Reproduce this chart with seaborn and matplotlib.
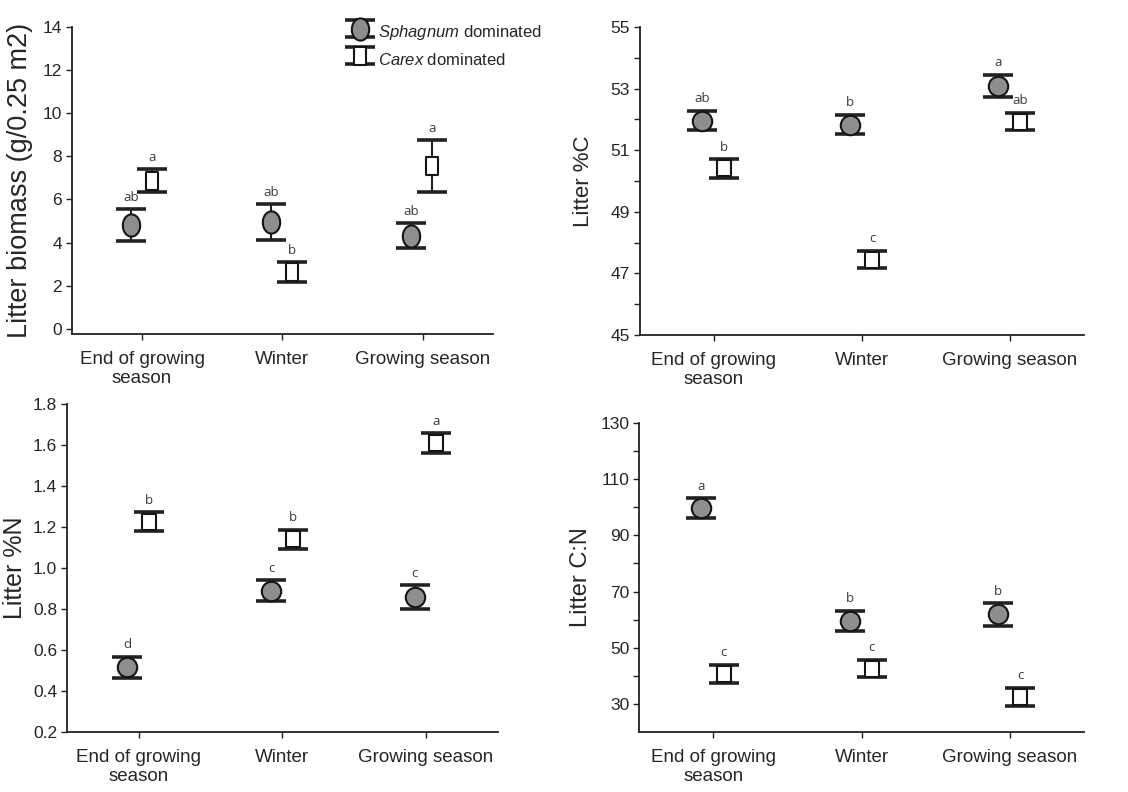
import numpy as np
import pandas as pd
import matplotlib
matplotlib.use("Agg")
import matplotlib.pyplot as plt
from matplotlib.path import Path
from matplotlib.legend_handler import HandlerTuple
import seaborn as sns

# seasons on the x axis
seasons = ["End of growing\nseason", "Winter", "Growing season"]

# Sphagnum dominated (mean, error) per panel
sph_biomass = [4.80, 4.95, 4.32]
sph_biomass_err = [0.75, 0.82, 0.58]
sph_c = [51.96, 51.83, 53.09]
sph_c_err = [0.32, 0.32, 0.35]
sph_n = [0.515, 0.89, 0.857]
sph_n_err = [0.052, 0.051, 0.058]
sph_cn = [99.8, 59.6, 61.85]
sph_cn_err = [3.5, 3.5, 3.95]

# Carex dominated
car_biomass = [6.87, 2.63, 7.55]
car_biomass_err = [0.53, 0.46, 1.2]
car_c = [50.41, 47.45, 51.93]
car_c_err = [0.30, 0.29, 0.29]
car_n = [1.226, 1.14, 1.609]
car_n_err = [0.047, 0.047, 0.048]
car_cn = [40.65, 42.55, 32.45]
car_cn_err = [3.25, 3.15, 3.25]

# significance letters
sph_letters = [["ab", "ab", "ab"], ["ab", "b", "a"], ["d", "c", "c"], ["a", "b", "b"]]
car_letters = [["a", "b", "a"], ["b", "c", "ab"], ["b", "b", "a"], ["c", "c", "c"]]

ylabels = ["Litter biomass (g/0.25 m2)", "Litter %C", "Litter %N", "Litter C:N"]

sns.set_style("ticks")
plt.rcParams["font.family"] = ["Liberation Sans", "DejaVu Sans"]
plt.rcParams["mathtext.fontset"] = "custom"
plt.rcParams["mathtext.rm"] = "Liberation Sans"
plt.rcParams["mathtext.it"] = "Liberation Sans:italic"


def box_marker(w, h):
    return Path([(-w, -h), (w, -h), (w, h), (-w, h), (-w, -h)],
                [Path.MOVETO, Path.LINETO, Path.LINETO, Path.LINETO, Path.CLOSEPOLY])


def oval_marker(w, h):
    t = np.linspace(0, 2 * np.pi, 60)
    return Path(np.column_stack([w * np.cos(t), h * np.sin(t)]), closed=True)


fig = plt.figure(figsize=(11.28, 7.92), dpi=100)
rects = [
    [0.0638, 0.578, 0.373, 0.388],
    [0.567, 0.577, 0.394, 0.389],
    [0.0594, 0.0758, 0.382, 0.414],
    [0.5665, 0.0758, 0.3945, 0.390],
]

panels = [
    (sph_biomass, sph_biomass_err, car_biomass, car_biomass_err),
    (sph_c, sph_c_err, car_c, car_c_err),
    (sph_n, sph_n_err, car_n, car_n_err),
    (sph_cn, sph_cn_err, car_cn, car_cn_err),
]
ylims = [(-0.25, 14), (45, 55), (0.2, 1.8), (20, 130)]
majors = [np.arange(0, 15, 2), np.arange(45, 56, 2), np.arange(0.2, 1.81, 0.2), np.arange(30, 131, 20)]
minors = [None, np.arange(45, 56, 1), None, np.arange(30, 131, 10)]
ylab_size = [19.5, 16, 18, 17]
ylab_pad = [7, 12, 4, 6]

bar_kw = dict(fmt="none", ecolor="#222222", elinewidth=1.5, capsize=10.5, capthick=2.6, zorder=2)

x = np.arange(len(seasons))
for i, (s_m, s_e, c_m, c_e) in enumerate(panels):
    ax = fig.add_axes(rects[i])
    if i == 0:
        m_sph, ms_sph = oval_marker(0.78, 1.0), 16
        m_car, ms_car = box_marker(0.66, 1.0), 13
    else:
        m_sph, ms_sph = "o", 14
        m_car, ms_car = box_marker(0.88, 1.0), 12.2

    df = pd.DataFrame({"x": x, "sph": s_m, "sph_err": s_e, "car": c_m, "car_err": c_e})
    eb1 = ax.errorbar(df["x"] - 0.08, df["sph"], yerr=df["sph_err"], **bar_kw)
    pt1, = ax.plot(df["x"] - 0.08, df["sph"], linestyle="none", marker=m_sph, markersize=ms_sph,
                   markerfacecolor="#8e8e8e", markeredgecolor="#151515", markeredgewidth=1.5, zorder=3)
    eb2 = ax.errorbar(df["x"] + 0.07, df["car"], yerr=df["car_err"], **bar_kw)
    pt2, = ax.plot(df["x"] + 0.07, df["car"], linestyle="none", marker=m_car, markersize=ms_car,
                   markerfacecolor="white", markeredgecolor="#151515", markeredgewidth=1.5, zorder=3)

    for j in range(len(seasons)):
        ax.annotate(sph_letters[i][j], (x[j] - 0.08, s_m[j] + s_e[j]), xytext=(0, 4),
                    textcoords="offset points", ha="center", va="bottom",
                    fontsize=9.5, color="#3a3a3a", family=["Open Sans", "DejaVu Sans"])
        ax.annotate(car_letters[i][j], (x[j] + 0.07, c_m[j] + c_e[j]), xytext=(0, 4),
                    textcoords="offset points", ha="center", va="bottom",
                    fontsize=9.5, color="#3a3a3a", family=["Open Sans", "DejaVu Sans"])

    ax.set_xlim(-0.5, 2.5)
    ax.set_ylim(*ylims[i])
    ax.set_xticks(x)
    ax.set_xticklabels(seasons, fontsize=13.5, linespacing=1.2)
    ax.set_yticks(majors[i])
    if i == 2:
        ax.set_yticklabels([f"{v:.1f}" for v in majors[i]])
    if minors[i] is not None:
        ax.set_yticks(minors[i], minor=True)
    ax.tick_params(axis="y", which="major", labelsize=12.5, length=4, width=1, pad=3, color="#222222")
    ax.tick_params(axis="y", which="minor", length=4, width=1, color="#222222")
    ax.tick_params(axis="x", length=4, width=1, pad=8, color="#222222")
    ax.set_ylabel(ylabels[i], fontsize=ylab_size[i], labelpad=ylab_pad[i])
    sns.despine(ax=ax)
    for sp in ["left", "bottom"]:
        ax.spines[sp].set_linewidth(1.3)
        ax.spines[sp].set_color("#222222")

    if i == 0:
        ax.legend([(eb1, pt1), (eb2, pt2)],
                  ["$\\it{Sphagnum}$ dominated", "$\\it{Carex}$ dominated"],
                  handler_map={tuple: HandlerTuple(ndivide=1)},
                  loc="upper left", bbox_to_anchor=(0.64, 1.045), frameon=False,
                  fontsize=12, handlelength=1.4, handleheight=1.9, labelspacing=0.15,
                  handletextpad=0.4, borderaxespad=0)

fig.savefig("out.png", dpi=100)
